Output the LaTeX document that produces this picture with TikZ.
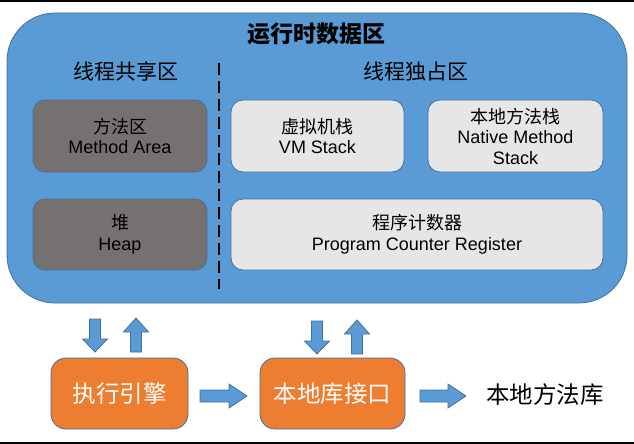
\documentclass[tikz,border=0pt]{standalone}
\usepackage{fontspec}
\setmainfont{Liberation Sans}
\newfontfamily\cjk{Noto Sans CJK SC}
\definecolor{bluefill}{HTML}{5B9BD5}
\definecolor{blueline}{HTML}{41719C}
\definecolor{grayfill}{HTML}{767171}
\definecolor{lightfill}{HTML}{E7E6E6}
\definecolor{orangefill}{HTML}{ED7D31}
\begin{document}
\begin{tikzpicture}[x=1pt,y=-1pt,
  box/.style={draw=blueline,line width=0.8pt,rounded corners=12pt,font=\fontsize{18}{20.5}\selectfont,align=center,text=black,inner sep=0pt},
  graybox/.style={box,fill=grayfill},
  lightbox/.style={box,fill=lightfill},
  orangebox/.style={draw=blueline,line width=0.8pt,fill=orangefill,rounded corners=15pt,text=white,font=\cjk\fontsize{23.5}{26}\selectfont,inner sep=0pt},
  barrow/.style={draw=blueline,line width=0.8pt,fill=bluefill,line join=miter},
  lbl/.style={font=\cjk\fontsize{21}{24}\selectfont,text=black}]
\useasboundingbox (0,0) rectangle (634,444);
\fill[white] (0,0) rectangle (634,444);
\draw[line width=1.5pt] (0,1) -- (634,1);
\draw[line width=1.5pt] (0,443) -- (634,443);
% outer region
\node[draw=blueline,line width=0.8pt,fill=bluefill,rounded corners=48pt,minimum width=620pt,minimum height=290pt,inner sep=0pt] (rt) at (317,158) {};
\node[font=\cjk\bfseries\fontsize{23}{26}\selectfont] (title) at (316,34) {运行时数据区};
\node[lbl] (shared) at (126,71) {线程共享区};
\node[lbl] (private) at (416,71) {线程独占区};
\coordinate (dtop) at (219,63);
\coordinate (dbot) at (219,289);
\draw[line width=1.5pt,dash pattern=on 12pt off 6pt] (dtop) -- (dbot);
% inner boxes
\node[graybox,minimum width=174pt,minimum height=72pt] (method) at (120,136) {{\cjk 方法区}\\Method Area};
\node[lightbox,minimum width=173pt,minimum height=72pt] (vm) at (317.5,136) {{\cjk 虚拟机栈}\\VM Stack};
\node[lightbox,minimum width=175pt,minimum height=72pt] (native) at (515.5,136) {{\cjk 本地方法栈}\\Native Method\\Stack};
\node[graybox,minimum width=174pt,minimum height=71pt] (heap) at (120,234.5) {{\cjk 堆}\\Heap};
\node[lightbox,minimum width=372pt,minimum height=71pt] (pc) at (417,234.5) {{\cjk 程序计数器}\\Program Counter Register};
% bottom boxes
\node[orangebox,minimum width=137pt,minimum height=71pt] (engine) at (119.5,393.5) {执行引擎};
\node[orangebox,minimum width=145pt,minimum height=71pt] (jni) at (332.5,393.5) {本地库接口};
\node[font=\cjk\fontsize{23.5}{26}\selectfont,text=black] (lib) at (545,395) {本地方法库};
% block arrows
\draw[barrow] (200,390) -- (229,390) -- (229,384) -- (247,396) -- (229,408) -- (229,402) -- (200,402) -- cycle;
\draw[barrow] (420,390) -- (448,390) -- (448,384) -- (466,396) -- (448,408) -- (448,402) -- (420,402) -- cycle;
\draw[barrow] (89.5,319) -- (100.5,319) -- (100.5,339) -- (107.5,339) -- (95,352) -- (82.5,339) -- (89.5,339) -- cycle;
\draw[barrow] (130.5,352) -- (141.5,352) -- (141.5,332) -- (148.5,332) -- (136,318) -- (123.5,332) -- (130.5,332) -- cycle;
\draw[barrow] (311.5,321) -- (322.5,321) -- (322.5,341) -- (329.5,341) -- (317,354) -- (304.5,341) -- (311.5,341) -- cycle;
\draw[barrow] (351.5,354) -- (362.5,354) -- (362.5,334) -- (369.5,334) -- (357,320) -- (344.5,334) -- (351.5,334) -- cycle;
\end{tikzpicture}
\end{document}
